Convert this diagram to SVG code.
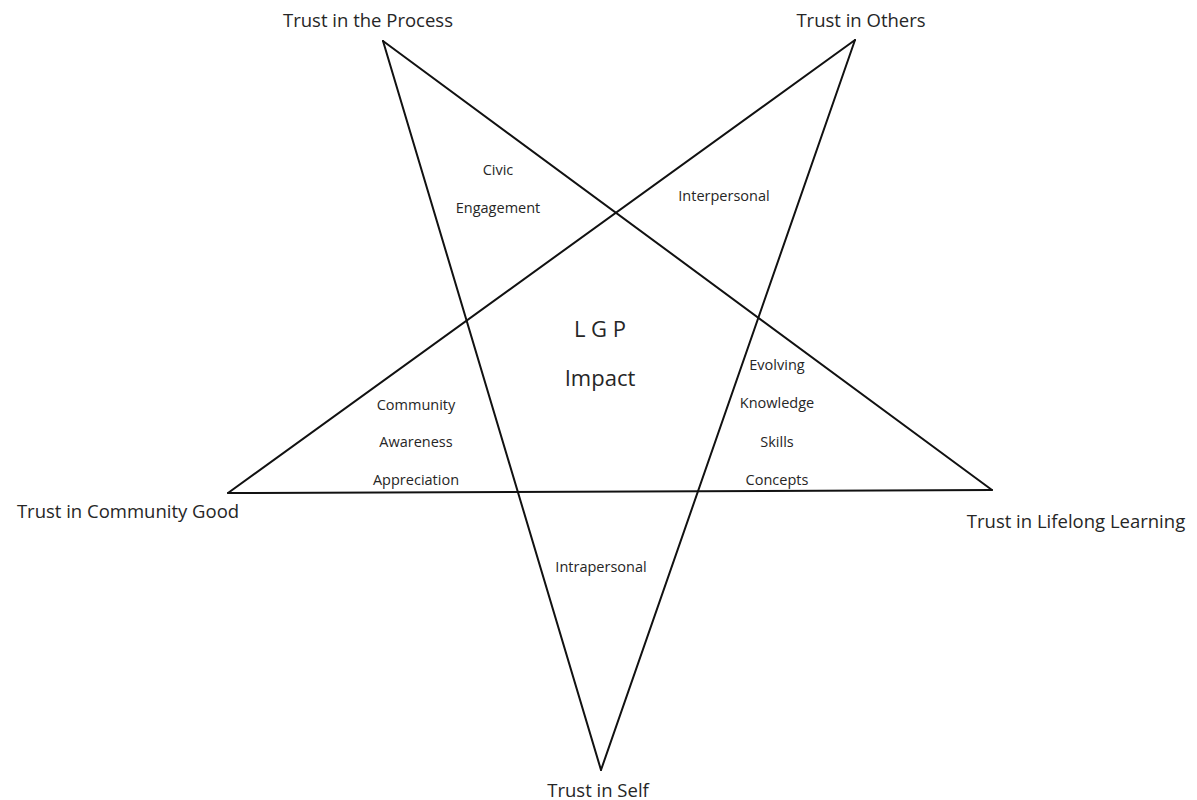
<svg xmlns="http://www.w3.org/2000/svg" width="1197" height="800" viewBox="0 0 1197 800">
<style>
text{font-family:"Open Sans","Liberation Sans",sans-serif;fill:#262626;text-anchor:middle}
.v{font-size:18.5px}
.r{font-size:14.5px}
.c{font-size:22px}
.edge{stroke:#111;stroke-width:2;fill:none;stroke-linecap:round}
</style>
<rect width="1197" height="800" fill="#fff"/>
<g id="connectors">
<line class="edge" x1="383" y1="41" x2="601" y2="770"/>
<line class="edge" x1="601" y1="770" x2="855" y2="40"/>
<line class="edge" x1="855" y1="40" x2="228" y2="493"/>
<line class="edge" x1="228" y1="493" x2="992" y2="490"/>
<line class="edge" x1="992" y1="490" x2="383" y2="41"/>
</g>
<g id="trust-process"><text class="v" x="368" y="27">Trust in the Process</text></g>
<g id="trust-others"><text class="v" x="861" y="27">Trust in Others</text></g>
<g id="trust-community"><text class="v" x="128" y="518">Trust in Community Good</text></g>
<g id="trust-lifelong"><text class="v" x="1076" y="528">Trust in Lifelong Learning</text></g>
<g id="trust-self"><text class="v" x="598" y="797">Trust in Self</text></g>
<g id="civic"><text class="r" x="498" y="175">Civic</text><text class="r" x="498" y="213">Engagement</text></g>
<g id="interpersonal"><text class="r" x="724" y="201">Interpersonal</text></g>
<g id="lgp"><text class="c" x="600" y="337">L G P</text><text class="c" x="600" y="386">Impact</text></g>
<g id="community"><text class="r" x="416" y="410">Community</text><text class="r" x="416" y="447">Awareness</text><text class="r" x="416" y="485">Appreciation</text></g>
<g id="evolving"><text class="r" x="777" y="370">Evolving</text><text class="r" x="777" y="408">Knowledge</text><text class="r" x="777" y="447">Skills</text><text class="r" x="777" y="485">Concepts</text></g>
<g id="intrapersonal"><text class="r" x="601" y="572">Intrapersonal</text></g>
</svg>
